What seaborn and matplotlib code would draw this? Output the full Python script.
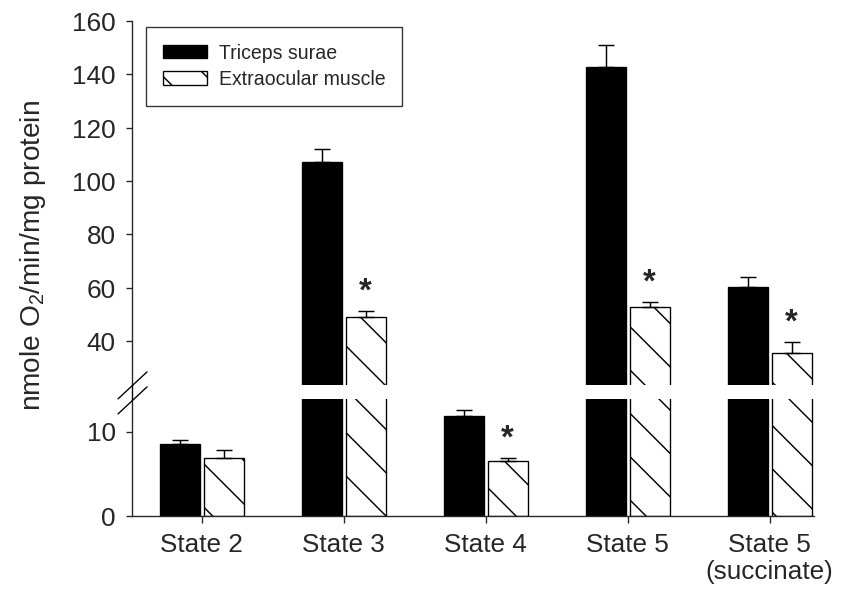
import numpy as np
import pandas as pd
import matplotlib
matplotlib.use('Agg')
import matplotlib.pyplot as plt
from matplotlib.patches import Patch
from matplotlib.lines import Line2D
import seaborn as sns

# values
states = ['State 2', 'State 3', 'State 4', 'State 5', 'State 5\n(succinate)']
muscles = ['Triceps surae', 'Extraocular muscle']
triceps = [8.5, 107.2, 11.9, 142.7, 60.3]
triceps_err = [0.5, 5.0, 0.6, 8.5, 3.7]
eom = [6.8, 48.9, 6.5, 52.7, 35.5]
eom_err = [1.0, 2.5, 0.3, 2.0, 4.0]
signif = [False, True, True, True, True]

df = pd.DataFrame({
    'state': states * 2,
    'muscle': [muscles[0]] * len(states) + [muscles[1]] * len(states),
    'value': triceps + eom,
})

sns.set_style('ticks')
plt.rcParams['font.family'] = ['Liberation Sans', 'DejaVu Sans']
plt.rcParams['hatch.linewidth'] = 0.8

DPI = 130
LW = 0.75
fig = plt.figure(figsize=(841.4 / DPI, 597.4 / DPI), dpi=DPI)
left, width = 0.157, 0.810
ax_hi = fig.add_axes([left, 0.355, width, 0.609])
ax_lo = fig.add_axes([left, 0.136, width, 0.196])

lo_max, hi_min = 13.9, 23.5

for ax in (ax_hi, ax_lo):
    sns.barplot(data=df, x='state', y='value', hue='muscle', hue_order=muscles,
                palette=['black', 'white'], saturation=1, edgecolor='black',
                linewidth=LW, width=0.62, gap=0.09, errorbar=None,
                legend=False, ax=ax)
    for p in ax.containers[1]:
        p.set_hatch('\\')
    # one-sided error bars
    for cont, err in zip(ax.containers, [triceps_err, eom_err]):
        xs = [p.get_x() + p.get_width() / 2 for p in cont]
        ys = [p.get_height() for p in cont]
        ax.errorbar(xs, ys, yerr=[np.zeros(len(err)), err], fmt='none',
                    ecolor='black', elinewidth=0.8, capsize=4.2, capthick=0.8)
    ax.set_xlim(-0.49, 4.31)
    ax.set_xlabel('')
    ax.set_ylabel('')
    sns.despine(ax=ax)
    for s in ax.spines.values():
        s.set_linewidth(LW)
    ax.tick_params(direction='out', length=3.6, width=LW, labelsize=14.5, pad=5.5)

ax_hi.set_ylim(hi_min, 160)
ax_hi.set_yticks([40, 60, 80, 100, 120, 140, 160])
ax_hi.spines['bottom'].set_visible(False)
ax_hi.tick_params(axis='x', bottom=False, labelbottom=False)

ax_lo.set_ylim(0, lo_max)
ax_lo.set_yticks([0, 10])

# significance stars
for i, p in enumerate(ax_lo.containers[1]):
    if not signif[i]:
        continue
    top = eom[i] + eom_err[i]
    ax = ax_hi if top > hi_min else ax_lo
    ax.annotate('*', xy=(p.get_x() + p.get_width() / 2, top), xytext=(0, 6),
                textcoords='offset points', ha='center', va='baseline',
                fontsize=18, fontweight='bold')

# continuous y spine through the break, plus break marks
fig.add_artist(Line2D([left, left], [0.136 + 0.196, 0.355], color='black',
                      linewidth=LW, transform=fig.transFigure))
W, H = 841.0, 597.0
for y0 in (399, 414):
    fig.add_artist(Line2D([118 / W, 147 / W], [1 - y0 / H, 1 - (y0 - 27) / H],
                          color='black', linewidth=LW, transform=fig.transFigure))

handles = [Patch(facecolor='black', edgecolor='black', linewidth=LW),
           Patch(facecolor='white', edgecolor='black', linewidth=LW, hatch='\\')]
leg = ax_hi.legend(handles, muscles, loc='upper left',
                   bbox_to_anchor=(146 / W, 1 - 27 / H),
                   bbox_transform=fig.transFigure, fontsize=10.8,
                   frameon=True, fancybox=False, framealpha=1,
                   edgecolor='#333333', borderpad=0.85, labelspacing=0.4,
                   handlelength=2.3, handleheight=0.7, handletextpad=0.6,
                   borderaxespad=0)
leg.get_frame().set_linewidth(LW)

fig.text(33 / W, 1 - 255 / H, 'nmole O$_\\mathregular{2}$/min/mg protein',
         rotation=90, ha='center', va='center', fontsize=15.5)

fig.savefig('out.png', dpi=DPI)
